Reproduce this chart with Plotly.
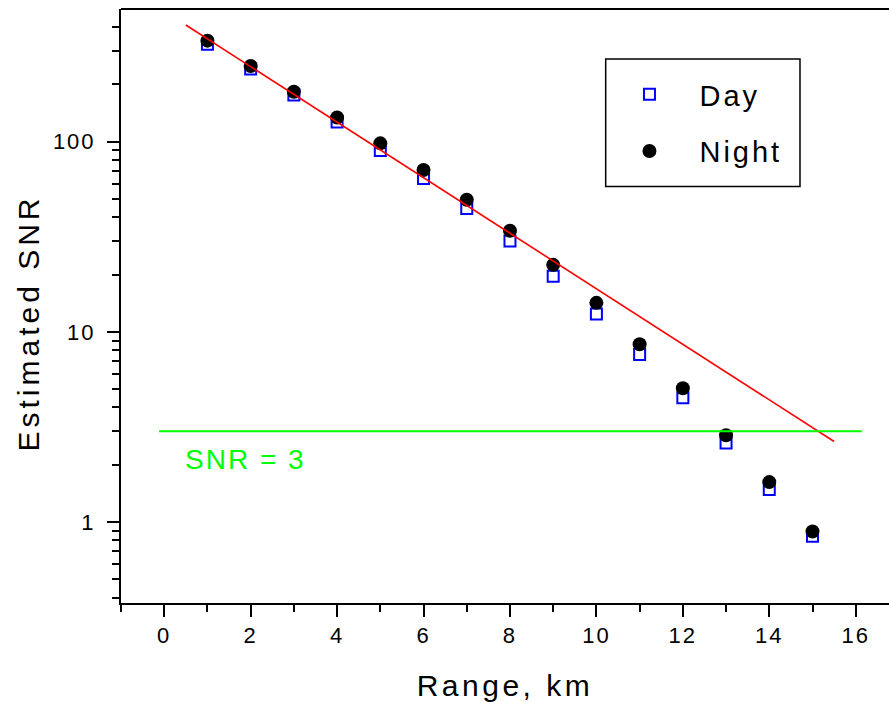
import plotly.graph_objects as go

range_km = [1, 2, 3, 4, 5, 6, 7, 8, 9, 10, 11, 12, 13, 14, 15]
snr_day = [326, 241, 176, 127, 90, 64, 44.5, 30, 19.6, 12.4, 7.6, 4.5, 2.6, 1.48, 0.84]
snr_night = [340, 250, 183, 134, 98, 71, 49.5, 34, 22.5, 14.2, 8.6, 5.05, 2.86, 1.62, 0.89]
fit_x = [0.5, 15.5]
fit_y = [411, 2.65]
thr_x = [-0.12, 16.14]
thr_y = [3, 3]
y_ticks = [1, 10, 100]

FONT = "Liberation Sans, Arial, sans-serif"

fig = go.Figure()
fig.add_trace(go.Scatter(x=range_km, y=snr_day, mode="markers", name="Day",
                         legendgroup="a",
                         marker=dict(symbol="square-open", size=11, color="#0000FF",
                                     line=dict(width=2, color="#0000FF"))))
fig.add_trace(go.Scatter(x=range_km, y=snr_night, mode="markers", name="Night",
                         legendgroup="b",
                         marker=dict(symbol="circle", size=14, color="#000000")))
fig.add_trace(go.Scatter(x=fit_x, y=fit_y, mode="lines", showlegend=False,
                         line=dict(color="#FF0000", width=1.6)))
fig.add_trace(go.Scatter(x=thr_x, y=thr_y, mode="lines", showlegend=False,
                         line=dict(color="#00FF00", width=2)))

fig.add_annotation(x=1.87, y=0.328, xref="x", yref="y", text="SNR = 3",
                   showarrow=False, font=dict(family=FONT, size=28, color="#00FF00"))

# top frame line
fig.add_shape(type="line", xref="paper", yref="paper", x0=0, x1=1, y0=1, y1=1,
              line=dict(color="black", width=2))
# legend box
fig.add_shape(type="rect", xref="paper", yref="paper", x0=0.6311, x1=0.8841,
              y0=0.7012, y1=0.9158, line=dict(color="black", width=1.5))

fig.update_layout(
    width=889, height=702,
    margin=dict(l=121, r=0, t=9, b=99),
    paper_bgcolor="white", plot_bgcolor="white",
    font=dict(family=FONT, color="black"),
    showlegend=True,
    legend=dict(x=0.623, y=0.899, xanchor="left", yanchor="top",
                bgcolor="rgba(0,0,0,0)", borderwidth=0,
                font=dict(family=FONT, size=29), itemwidth=90,
                tracegroupgap=16),
    xaxis=dict(range=[-1, 16.77], showgrid=False, zeroline=False,
               showline=True, linecolor="black", linewidth=2,
               ticks="outside", ticklen=12, tickwidth=2, tickcolor="black",
               dtick=2, tick0=0, tickfont=dict(size=22),
               minor=dict(dtick=1, tick0=0, ticks="outside", ticklen=7,
                          tickwidth=2, tickcolor="black", showgrid=False),
               title=dict(text="Range, km", font=dict(size=30), standoff=29)),
    yaxis=dict(type="log", range=[-0.4263, 2.698], showgrid=False, zeroline=False,
               showline=True, linecolor="black", linewidth=2,
               ticks="outside", ticklen=12, tickwidth=2, tickcolor="black",
               tickvals=y_ticks, ticktext=[str(v) for v in y_ticks],
               tickfont=dict(size=22), ticklabelstandoff=7,
               minor=dict(dtick="D1", ticks="outside", ticklen=7,
                          tickwidth=2, tickcolor="black", showgrid=False),
               title=dict(text="Estimated SNR", font=dict(size=30), standoff=10)),
)

post = """
var s=document.createElement('style');
s.innerHTML='html,body{margin:0;padding:0;overflow:hidden}'
 + '.xtitle{letter-spacing:3.5px}.ytitle{letter-spacing:4px;translate:0px 17px}'
 + '.xtick text,.ytick text{letter-spacing:2px}'
 + '.legendtext{letter-spacing:3px}'
 + '.annotation-text{letter-spacing:2px}'
 + '.legend, .legend *{clip-path:none !important}';
document.head.appendChild(s);
"""
fig.write_html("out.html", post_script=post, config={"displayModeBar": False})
